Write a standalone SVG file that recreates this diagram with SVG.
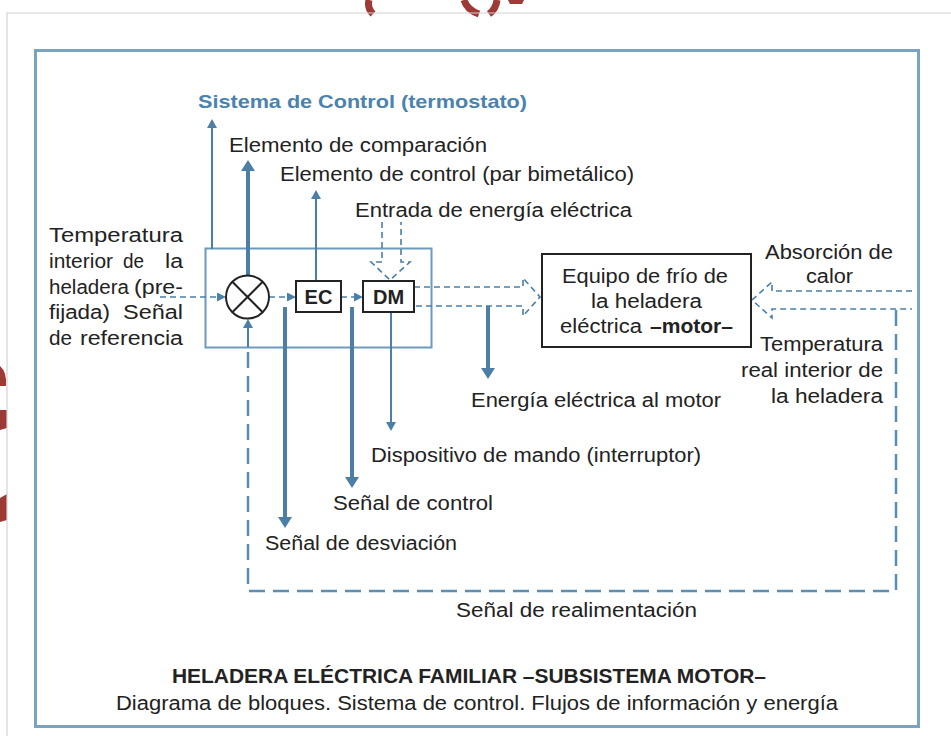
<svg xmlns="http://www.w3.org/2000/svg" width="951" height="736" viewBox="0 0 951 736">
<style>
  .t{font-family:"Liberation Sans",Arial,sans-serif;font-size:20px;fill:#222}
  .b{font-weight:bold}
  .blue{fill:#4a82b0;font-weight:bold;font-size:19px}
  .ln{stroke:#4b7fa6;fill:none}
  .thin{stroke-width:2}
  .thick{stroke-width:4}
  .dsh{stroke:#4b7fa6;stroke-width:1.6;stroke-dasharray:6 4;fill:none}
  .fb{stroke:#5d8fb3;stroke-width:2.5;stroke-dasharray:16 8;fill:none}
  .blk{stroke:#222;stroke-width:2;fill:#fff}
  .red{fill:none;stroke:#9e3a36;stroke-width:7}
</style>
<defs>
  <marker id="ahThick" markerUnits="userSpaceOnUse" markerWidth="11" markerHeight="14" viewBox="0 0 11 14" refX="0" refY="7" orient="auto">
    <path d="M0,0 L11,7 L0,14 z" fill="#4b7fa6"/>
  </marker>
  <marker id="ahThin" markerUnits="userSpaceOnUse" markerWidth="9" markerHeight="10" viewBox="0 0 9 10" refX="0" refY="5" orient="auto">
    <path d="M0,0 L9,5 L0,10 z" fill="#4b7fa6"/>
  </marker>
  <marker id="ahSmall" markerUnits="userSpaceOnUse" markerWidth="9" markerHeight="9" viewBox="0 0 9 9" refX="0" refY="4.5" orient="auto">
    <path d="M0,0 L9,4.5 L0,9 z" fill="#4b7fa6"/>
  </marker>
</defs>
<rect width="951" height="736" fill="#fff"/>
<!-- background decorations -->
<g id="decor">
  <path class="red" d="M369,0 Q367,8 373,14"/>
  <path class="red" d="M464,0 Q467,10 479,14"/>
  <path class="red" d="M497,0 Q496,9 489,14"/>
  <path d="M508,0 L524,0 L522,4 L510,4 z" fill="#9e3a36"/>
  <path d="M0,366 Q7,372 6,386 L0,386 z" fill="#9e3a36"/>
  <path d="M0,410 L7,410 L7,428 L0,430 z" fill="#9e3a36"/>
  <path d="M0,498 L7,494 L7,520 L0,522 z" fill="#9e3a36"/>
  <path d="M7,736 L7,13 L951,13" fill="none" stroke="#d2d2d2" stroke-width="1.2"/>
  <rect x="35.5" y="50.5" width="883" height="676" fill="none" stroke="#7aa3bf" stroke-width="3"/>
</g>
<g id="node-control-box">
  <rect x="205.5" y="248.5" width="226" height="99" fill="none" stroke="#6b9bbd" stroke-width="2"/>
</g>
<g id="connectors">
  <line class="ln thin" x1="212" y1="249" x2="212" y2="128" marker-end="url(#ahThin)"/>
  <line class="ln thick" x1="248" y1="276" x2="248" y2="171" marker-end="url(#ahThick)"/>
  <line class="ln thin" x1="316" y1="281" x2="316" y2="199" marker-end="url(#ahThin)"/>
  <line class="ln thin" x1="248" y1="347" x2="248" y2="328" marker-end="url(#ahThin)"/>
  <line class="ln thick" x1="285" y1="307" x2="285" y2="517" marker-end="url(#ahThick)"/>
  <line class="ln thick" x1="352" y1="307" x2="352" y2="477" marker-end="url(#ahThick)"/>
  <line class="ln thin" x1="391" y1="312" x2="391" y2="422" marker-end="url(#ahThin)"/>
  <line class="ln thick" x1="488" y1="306" x2="488" y2="368" marker-end="url(#ahThick)"/>
  <line class="dsh" x1="160" y1="297" x2="217" y2="297" marker-end="url(#ahSmall)"/>
  <line class="dsh" x1="269" y1="297" x2="287" y2="297" marker-end="url(#ahSmall)"/>
  <line class="dsh" x1="341" y1="297" x2="354" y2="297" marker-end="url(#ahSmall)"/>
  <!-- energy input (hollow arrow) -->
  <path class="dsh" d="M382,222 L382,262 L371,262 L390,280 L410,262 L401,262 L401,222"/>
  <!-- DM to motor (hollow arrow) -->
  <path class="dsh" d="M414,287 L523,287 L523,278 L540,297 L523,316 L523,306 L414,306"/>
  <!-- heat absorption (hollow arrow) -->
  <path class="dsh" d="M912,291 L772,291 L772,282 L752,300 L772,318 L772,309 L912,309"/>
  <!-- feedback -->
  <path class="fb" d="M896,310 L896,591 L248,591 L248,352"/>
</g>
<g id="node-comparator">
  <circle cx="247.5" cy="297" r="21.5" class="blk"/>
  <path d="M232.3,281.8 L262.7,312.2 M262.7,281.8 L232.3,312.2" stroke="#222" stroke-width="2"/>
</g>
<g id="node-ec">
  <rect x="296" y="281" width="45" height="31" class="blk"/>
  <text class="t b" x="318.5" y="304" text-anchor="middle" font-size="19">EC</text>
</g>
<g id="node-dm">
  <rect x="363" y="281" width="51" height="31" class="blk"/>
  <text class="t b" x="388.5" y="304" text-anchor="middle" font-size="19">DM</text>
</g>
<g id="node-motor">
  <rect x="542" y="254" width="209" height="93" class="blk"/>
  <text class="t" x="562" y="283" textLength="166" lengthAdjust="spacingAndGlyphs">Equipo de frío de</text>
  <text class="t" x="591" y="308" textLength="111" lengthAdjust="spacingAndGlyphs">la heladera</text>
  <text class="t" x="560" y="333" textLength="82" lengthAdjust="spacingAndGlyphs">eléctrica</text>
  <text class="t b" x="650" y="333" textLength="83" lengthAdjust="spacingAndGlyphs">–motor–</text>
</g>
<g id="labels">
  <text class="t blue" x="198" y="108" textLength="329" lengthAdjust="spacingAndGlyphs">Sistema de Control (termostato)</text>
  <text class="t" x="229" y="152" textLength="258" lengthAdjust="spacingAndGlyphs">Elemento de comparación</text>
  <text class="t" x="280" y="181" textLength="354" lengthAdjust="spacingAndGlyphs">Elemento de control (par bimetálico)</text>
  <text class="t" x="355" y="217" textLength="277" lengthAdjust="spacingAndGlyphs">Entrada de energía eléctrica</text>

  <text class="t" x="49" y="242" textLength="134" lengthAdjust="spacingAndGlyphs">Temperatura</text>
  <text class="t" x="49" y="268" textLength="64" lengthAdjust="spacingAndGlyphs">interior</text>
  <text class="t" x="123" y="268" textLength="21" lengthAdjust="spacingAndGlyphs">de</text>
  <text class="t" x="165" y="268" textLength="18" lengthAdjust="spacingAndGlyphs">la</text>
  <text class="t" x="49" y="294" textLength="80" lengthAdjust="spacingAndGlyphs">heladera</text>
  <text class="t" x="134" y="294" textLength="49" lengthAdjust="spacingAndGlyphs">(pre-</text>
  <text class="t" x="49" y="319" textLength="61" lengthAdjust="spacingAndGlyphs">fijada)</text>
  <text class="t" x="123" y="319" textLength="60" lengthAdjust="spacingAndGlyphs">Señal</text>
  <text class="t" x="49" y="345" textLength="23" lengthAdjust="spacingAndGlyphs">de</text>
  <text class="t" x="80" y="345" textLength="103" lengthAdjust="spacingAndGlyphs">referencia</text>

  <text class="t" x="765" y="259" textLength="128" lengthAdjust="spacingAndGlyphs">Absorción de</text>
  <text class="t" x="806" y="283" textLength="47" lengthAdjust="spacingAndGlyphs">calor</text>
  <text class="t" x="760" y="351" textLength="123" lengthAdjust="spacingAndGlyphs">Temperatura</text>
  <text class="t" x="741" y="377" textLength="142" lengthAdjust="spacingAndGlyphs">real interior de</text>
  <text class="t" x="771" y="403" textLength="112" lengthAdjust="spacingAndGlyphs">la heladera</text>

  <text class="t" x="471" y="407" textLength="250" lengthAdjust="spacingAndGlyphs">Energía eléctrica al motor</text>
  <text class="t" x="371" y="462" textLength="330" lengthAdjust="spacingAndGlyphs">Dispositivo de mando (interruptor)</text>
  <text class="t" x="333" y="510" textLength="160" lengthAdjust="spacingAndGlyphs">Señal de control</text>
  <text class="t" x="265" y="550" textLength="192" lengthAdjust="spacingAndGlyphs">Señal de desviación</text>
  <text class="t" x="456" y="617" textLength="241" lengthAdjust="spacingAndGlyphs">Señal de realimentación</text>

  <text class="t b" x="172" y="683" font-size="19" textLength="594" lengthAdjust="spacingAndGlyphs">HELADERA ELÉCTRICA FAMILIAR –SUBSISTEMA MOTOR–</text>
  <text class="t" x="116" y="710" font-size="19" textLength="722" lengthAdjust="spacingAndGlyphs">Diagrama de bloques. Sistema de control. Flujos de información y energía</text>
</g>
</svg>
